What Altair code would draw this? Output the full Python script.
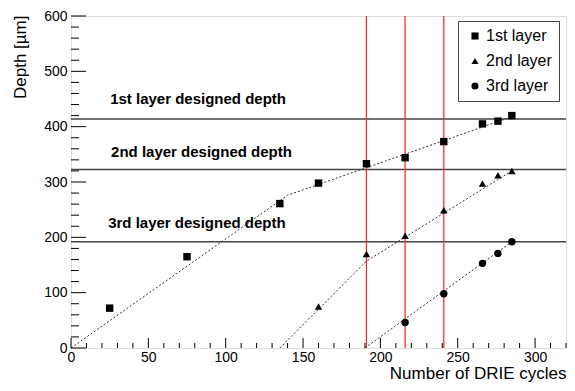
import altair as alt
import pandas as pd

# ---- data ----
layers = ["1st layer", "2nd layer", "3rd layer"]
cycles_1 = [25, 75, 135, 160, 191, 216, 241, 266, 276, 285]
depth_1 = [72, 165, 261, 298, 333, 344, 373, 405, 410, 420]
cycles_2 = [160, 191, 216, 241, 266, 276, 285]
depth_2 = [75, 170, 203, 249, 297, 312, 320]
cycles_3 = [216, 241, 266, 276, 285]
depth_3 = [46, 98, 153, 171, 192]

fit_x_1 = [0, 140, 285]
fit_y_1 = [0, 276, 418]
fit_x_2 = [135, 191, 285]
fit_y_2 = [0, 157, 320]
fit_x_3 = [190, 285]
fit_y_3 = [0, 192]

designed_depth = [414, 322.5, 192]
designed_labels = ["1st layer designed depth", "2nd layer designed depth", "3rd layer designed depth"]
label_x = [25.3, 25.9, 24.0]
label_y = [441, 346, 217.5]

red_cycles = [191, 216, 241]

x_major = [0, 50, 100, 150, 200, 250, 300]
x_minor = [v for v in range(0, 321, 10) if v % 50 != 0]
y_major = [0, 100, 200, 300, 400, 500, 600]
y_minor = [v for v in range(0, 601, 20) if v % 100 != 0]

X_DOM = [0, 320]
Y_DOM = [0, 600]
W, H = 495, 332
FONT = "Liberation Sans"

pts = pd.DataFrame({
    "cycles": cycles_1 + cycles_2 + cycles_3,
    "depth": depth_1 + depth_2 + depth_3,
    "layer": [layers[0]] * len(cycles_1) + [layers[1]] * len(cycles_2) + [layers[2]] * len(cycles_3),
})
fits = pd.DataFrame({
    "cycles": fit_x_1 + fit_x_2 + fit_x_3,
    "depth": fit_y_1 + fit_y_2 + fit_y_3,
    "layer": [layers[0]] * len(fit_x_1) + [layers[1]] * len(fit_x_2) + [layers[2]] * len(fit_x_3),
})
hl = pd.DataFrame({"depth": designed_depth, "x0": [X_DOM[0]] * 3, "x1": [X_DOM[1]] * 3})
vl = pd.DataFrame({"cycles": red_cycles, "y0": [Y_DOM[0]] * 3, "y1": [Y_DOM[1]] * 3})
labels = pd.DataFrame({"text": designed_labels, "cycles": label_x, "depth": label_y})
xt_major = pd.DataFrame({"v": x_major})
xt_minor = pd.DataFrame({"v": x_minor})
yt_major = pd.DataFrame({"v": y_major})
yt_minor = pd.DataFrame({"v": y_minor})

xs = alt.Scale(domain=X_DOM, nice=False, zero=False)
ys = alt.Scale(domain=Y_DOM, nice=False, zero=False)

x_axis = alt.Axis(
    values=x_major, tickSize=0, domain=False, grid=False, labelFont=FONT, labelFontSize=14,
    labelColor="black", labelPadding=2, labelFlush=False, labelOverlap=False,
    title="Number of DRIE cycles", titleFont=FONT, titleFontSize=17, titleFontWeight="normal",
    titleColor="black", titleAnchor="end", titleAlign="right", titleX=W, titleY=30,
    titleBaseline="alphabetic",
)
y_axis = alt.Axis(
    values=y_major, tickSize=0, domain=False, grid=False, labelFont=FONT, labelFontSize=14,
    labelColor="black", labelPadding=4, labelFlush=False, labelOverlap=False,
    title="Depth [µm]", titleFont=FONT, titleFontSize=17, titleFontWeight="normal",
    titleColor="black", titleAngle=270, titleAlign="right", titleX=-46, titleY=-1,
    titleBaseline="alphabetic",
)

hlines = alt.Chart(hl).mark_rule(color="#444444", strokeWidth=1.5).encode(
    x=alt.X("x0:Q", scale=xs, axis=x_axis), x2="x1:Q",
    y=alt.Y("depth:Q", scale=ys, axis=y_axis),
)
vlines = alt.Chart(vl).mark_rule(color="#ff2222", strokeWidth=1.2).encode(
    x=alt.X("cycles:Q", scale=xs), y=alt.Y("y0:Q", scale=ys), y2="y1:Q",
)
fit_lines = alt.Chart(fits).mark_line(color="#333333", strokeWidth=1, strokeDash=[2, 2]).encode(
    x=alt.X("cycles:Q", scale=xs), y=alt.Y("depth:Q", scale=ys),
    detail="layer:N", order="cycles:Q",
)
points = alt.Chart(pts).mark_point(filled=True, color="black", opacity=1, size=55).encode(
    x=alt.X("cycles:Q", scale=xs), y=alt.Y("depth:Q", scale=ys),
    shape=alt.Shape(
        "layer:N",
        scale=alt.Scale(domain=layers, range=["square", "triangle-up", "circle"]),
        legend=alt.Legend(
            title=None, orient="none", legendX=387, legendY=5, direction="vertical",
            labelFont=FONT, labelFontSize=16, labelColor="black", labelOffset=3,
            symbolSize=50, symbolFillColor="black", symbolStrokeColor="black",
            rowPadding=9, padding=7, strokeColor="#444444", fillColor="white",
            symbolOffset=2,
        ),
    ),
)
texts = alt.Chart(labels).mark_text(
    align="left", baseline="alphabetic", font=FONT, fontSize=15, fontWeight="bold", color="black"
).encode(
    x=alt.X("cycles:Q", scale=xs), y=alt.Y("depth:Q", scale=ys), text="text:N",
)

xmaj = alt.Chart(xt_major).mark_rule(color="black", strokeWidth=1).encode(
    x=alt.X("v:Q", scale=xs), y=alt.value(H), y2=alt.value(H - 10))
xmin = alt.Chart(xt_minor).mark_rule(color="black", strokeWidth=1).encode(
    x=alt.X("v:Q", scale=xs), y=alt.value(H), y2=alt.value(H - 5))
ymaj = alt.Chart(yt_major).mark_rule(color="black", strokeWidth=1).encode(
    y=alt.Y("v:Q", scale=ys), x=alt.value(0), x2=alt.value(15))
ymin = alt.Chart(yt_minor).mark_rule(color="black", strokeWidth=1).encode(
    y=alt.Y("v:Q", scale=ys), x=alt.value(0), x2=alt.value(8))

chart = alt.layer(
    hlines, vlines, fit_lines, texts, xmaj, xmin, ymaj, ymin, points
).properties(
    width=W, height=H,
    autosize=alt.AutoSizeParams(type="none"),
    padding={"left": 63, "top": 8, "right": 1, "bottom": 34},
).configure_view(
    stroke="black", strokeWidth=1
).configure(background="white")

chart.save("out.html", embed_options={"renderer": "svg", "actions": False})
